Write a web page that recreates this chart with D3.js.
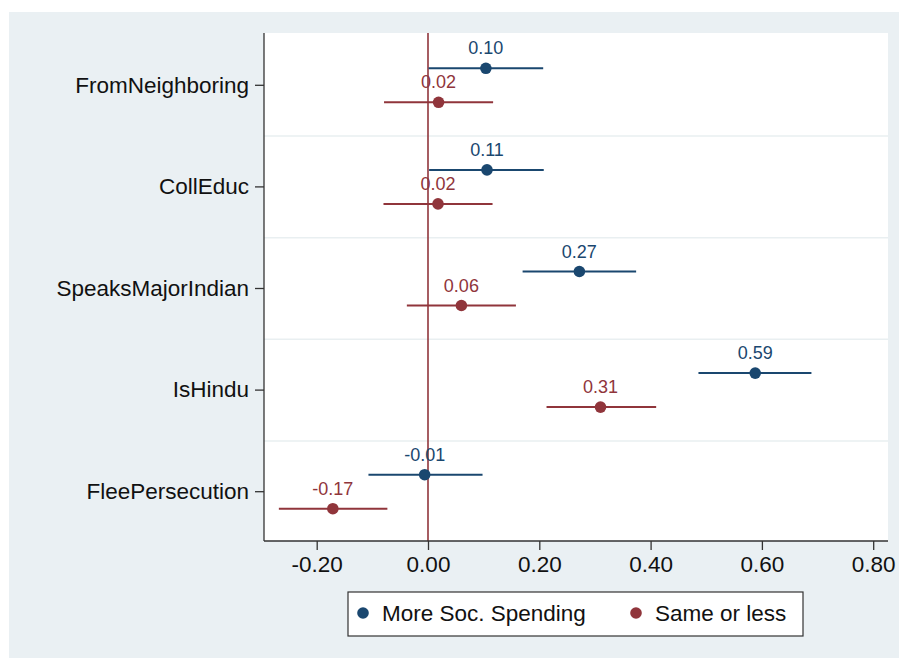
<!DOCTYPE html>
<html>
<head>
<meta charset="utf-8">
<script src="https://cdn.jsdelivr.net/npm/d3@7"></script>
<style>
  html, body { margin: 0; padding: 0; background: #ffffff; }
  svg { display: block; font-family: "Liberation Sans", Arial, Helvetica, sans-serif; }
</style>
</head>
<body>
<svg id="chart" width="899" height="658"></svg>
<script>
// ---- data ----
const categories = ["FromNeighboring", "CollEduc", "SpeaksMajorIndian", "IsHindu", "FleePersecution"];
const seriesNames = ["More Soc. Spending", "Same or less"];
const moreEst   = [0.104, 0.106, 0.272, 0.588, -0.006];
const moreLow   = [0.001, 0.002, 0.170, 0.486, -0.107];
const moreHigh  = [0.207, 0.208, 0.374, 0.689, 0.098];
const sameEst   = [0.019, 0.018, 0.060, 0.310, -0.171];
const sameLow   = [-0.079, -0.080, -0.038, 0.213, -0.268];
const sameHigh  = [0.117, 0.116, 0.158, 0.410, -0.073];
const xTicks = [-0.2, 0, 0.2, 0.4, 0.6, 0.8];

// ---- styles ----
const colMore = "#1a476f";
const colSame = "#90353b";
const bgCol = "#eaf0f3";

const locale = d3.formatLocale({ decimal: ".", thousands: ",", grouping: [3], currency: ["", ""], minus: "-" });
const fmt = locale.format(".2f");

const svg = d3.select("#chart");
const W = 899, H = 658;
const plot = { left: 264, right: 888, top: 33, bottom: 541 };

svg.append("rect").attr("x", 9).attr("y", 12).attr("width", W - 9).attr("height", H - 12).attr("fill", bgCol);
svg.append("rect").attr("x", plot.left).attr("y", plot.top)
  .attr("width", plot.right - plot.left).attr("height", plot.bottom - plot.top).attr("fill", "#ffffff");

const x = d3.scaleLinear().domain([-0.2947, 0.8266]).range([plot.left, plot.right]);
const y = d3.scaleBand().domain(categories).range([plot.top + 1.5, plot.bottom + 1.5]);
const off = 17;

// gridlines at band boundaries
const g = svg.append("g");
categories.slice(1).forEach(c => {
  g.append("line").attr("x1", plot.left).attr("x2", plot.right)
    .attr("y1", y(c)).attr("y2", y(c))
    .attr("stroke", "#e9eff1").attr("stroke-width", 1.5);
});

// reference line at 0
svg.append("line").attr("x1", x(0)).attr("x2", x(0))
  .attr("y1", plot.top).attr("y2", plot.bottom)
  .attr("stroke", colSame).attr("stroke-width", 1.6);

const series = [
  { name: seriesNames[0], est: moreEst, lo: moreLow, hi: moreHigh, col: colMore, dy: -off },
  { name: seriesNames[1], est: sameEst, lo: sameLow, hi: sameHigh, col: colSame, dy: off }
];

series.forEach(s => {
  const gs = svg.append("g");
  categories.forEach((c, i) => {
    const cy = y(c) + y.bandwidth() / 2 + s.dy;
    gs.append("line").attr("x1", x(s.lo[i])).attr("x2", x(s.hi[i]))
      .attr("y1", cy).attr("y2", cy).attr("stroke", s.col).attr("stroke-width", 2);
    gs.append("circle").attr("cx", x(s.est[i])).attr("cy", cy).attr("r", 5.8).attr("fill", s.col);
    gs.append("text").attr("x", x(s.est[i])).attr("y", cy - 14)
      .attr("text-anchor", "middle").attr("font-size", 18).attr("fill", s.col)
      .text(fmt(s.est[i]));
  });
});

// axes
const xAxis = d3.axisBottom(x).tickValues(xTicks).tickFormat(fmt).tickSize(9).tickPadding(6);
const gx = svg.append("g").attr("transform", `translate(0,${plot.bottom})`).call(xAxis);
gx.select(".domain").attr("stroke", "#333").attr("stroke-width", 1.3).attr("d", `M${plot.left},0H${plot.right}`);
gx.selectAll(".tick line").attr("stroke", "#333").attr("stroke-width", 1.3);
gx.selectAll(".tick text").attr("font-size", 22.5).attr("fill", "#111").attr("font-family", "Liberation Sans, Arial, sans-serif");

const yAxis = d3.axisLeft(y).tickSize(9).tickPadding(6);
const gy = svg.append("g").attr("transform", `translate(${plot.left},0)`).call(yAxis);
gy.select(".domain").attr("stroke", "#333").attr("stroke-width", 1.3).attr("d", `M0,${plot.top}V${plot.bottom}`);
gy.selectAll(".tick line").attr("stroke", "#333").attr("stroke-width", 1.3);
gy.selectAll(".tick text").attr("font-size", 22.5).attr("fill", "#111").attr("font-family", "Liberation Sans, Arial, sans-serif");

// legend
const lg = svg.append("g");
lg.append("rect").attr("x", 348).attr("y", 592).attr("width", 455).attr("height", 44)
  .attr("fill", "#ffffff").attr("stroke", "#333").attr("stroke-width", 1.2);
const legendPos = [363, 636];
series.forEach((s, i) => {
  lg.append("circle").attr("cx", legendPos[i]).attr("cy", 613).attr("r", 5.8).attr("fill", s.col);
  lg.append("text").attr("x", legendPos[i] + 19).attr("y", 621)
    .attr("font-size", 22.5).attr("fill", "#111").text(s.name);
});
</script>
</body>
</html>
